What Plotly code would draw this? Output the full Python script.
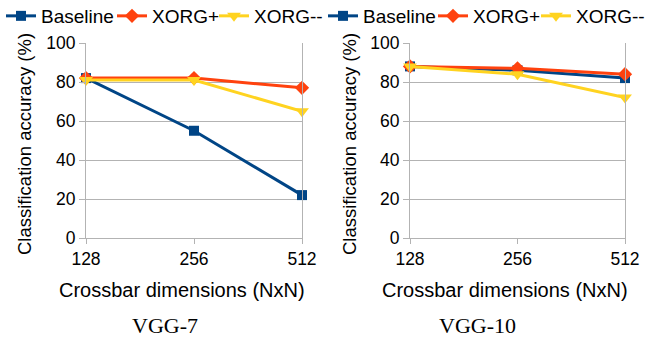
import plotly.graph_objects as go

dims = ["128", "256", "512"]
series_names = ["Baseline", "XORG+", "XORG--"]
vgg7_baseline = [82, 55, 22]
vgg7_xorg_plus = [82, 82, 77]
vgg7_xorg_minus = [81, 81, 65]
vgg10_baseline = [88, 86, 82]
vgg10_xorg_plus = [88, 87, 84]
vgg10_xorg_minus = [88, 84, 72]
y_ticks = [0, 20, 40, 60, 80, 100]
panel_titles = ["VGG-7", "VGG-10"]
x_title = "Crossbar dimensions (NxN)"
y_title = "Classification accuracy (%)"

colors = ["#004586", "#ff420e", "#ffd320"]
symbols = ["square", "diamond", "triangle-down"]
msizes = [10, 11, 12]

FONT = "Liberation Sans, Arial, sans-serif"
GRID = "#b3b3b3"
W, H = 647, 338


def px_x(p):
    return p / W


def px_y(p):
    return 1 - p / H


fig = go.Figure()

# legend entry line-start positions (px) for each panel
legend_starts = [[9, 120, 222], [331, 441, 544]]

panels = [
    ([vgg7_baseline, vgg7_xorg_plus, vgg7_xorg_minus], "x", "y"),
    ([vgg10_baseline, vgg10_xorg_plus, vgg10_xorg_minus], "x2", "y2"),
]
legend_layout = {}
k = 0
for p, (vals, xa, ya) in enumerate(panels):
    for i, name in enumerate(series_names):
        k += 1
        lname = "legend" if k == 1 else f"legend{k}"
        fig.add_trace(go.Scatter(
            x=dims, y=vals[i], name=name, mode="lines+markers",
            xaxis=xa, yaxis=ya, legend=lname, cliponaxis=False,
            line=dict(color=colors[i], width=3),
            marker=dict(color=colors[i], symbol=symbols[i], size=msizes[i]),
        ))
        legend_layout[lname] = dict(
            orientation="h", x=px_x(legend_starts[p][i] - 8), y=px_y(-3),
            xanchor="left", yanchor="top",
            font=dict(family=FONT, size=19, color="#000"),
            bgcolor="rgba(0,0,0,0)", itemwidth=30, borderwidth=0)

ydom = [px_y(238), px_y(43)]
common_x = dict(type="category", range=[0, 2], showgrid=False, showline=True,
                linecolor=GRID, linewidth=1, ticks="outside", ticklen=5,
                tickcolor=GRID, tickfont=dict(family=FONT, size=17.5, color="#000"),
                zeroline=False, fixedrange=True, automargin=False)
common_y = dict(range=[0, 100], tickvals=y_ticks, showgrid=True, gridcolor=GRID,
                gridwidth=1, showline=True, linecolor=GRID, linewidth=1, mirror=True,
                ticks="outside", ticklen=6, tickcolor=GRID, zeroline=False,
                tickfont=dict(family=FONT, size=17.5, color="#000"), fixedrange=True,
                automargin=False)

fig.update_layout(
    width=W, height=H, margin=dict(l=0, r=0, t=0, b=0, autoexpand=False),
    paper_bgcolor="white", plot_bgcolor="white",
    font=dict(family=FONT, color="#000"),
    xaxis=dict(domain=[px_x(86), px_x(302)], anchor="y", **common_x),
    yaxis=dict(domain=ydom, anchor="x", **common_y),
    xaxis2=dict(domain=[px_x(410), px_x(625)], anchor="y2", **common_x),
    yaxis2=dict(domain=ydom, anchor="x2", **common_y),
    showlegend=True,
    **legend_layout,
)

annots = []
for cx, ycx, tcx, title in [(182, 25, 165, panel_titles[0]), (505, 350, 477, panel_titles[1])]:
    annots.append(dict(text=x_title, x=px_x(cx), y=px_y(290), xref="paper", yref="paper",
                       xanchor="center", yanchor="middle", showarrow=False,
                       font=dict(family=FONT, size=20, color="#000")))
    annots.append(dict(text=y_title, x=px_x(ycx), y=px_y(144), xref="paper", yref="paper",
                       xanchor="center", yanchor="middle", showarrow=False, textangle=-90,
                       font=dict(family=FONT, size=18.5, color="#000")))
    annots.append(dict(text=title, x=px_x(tcx), y=px_y(325), xref="paper", yref="paper",
                       xanchor="center", yanchor="middle", showarrow=False,
                       font=dict(family="Liberation Serif, Times New Roman, serif", size=22, color="#000")))
fig.update_layout(annotations=annots)

fig.write_html("out.html")
